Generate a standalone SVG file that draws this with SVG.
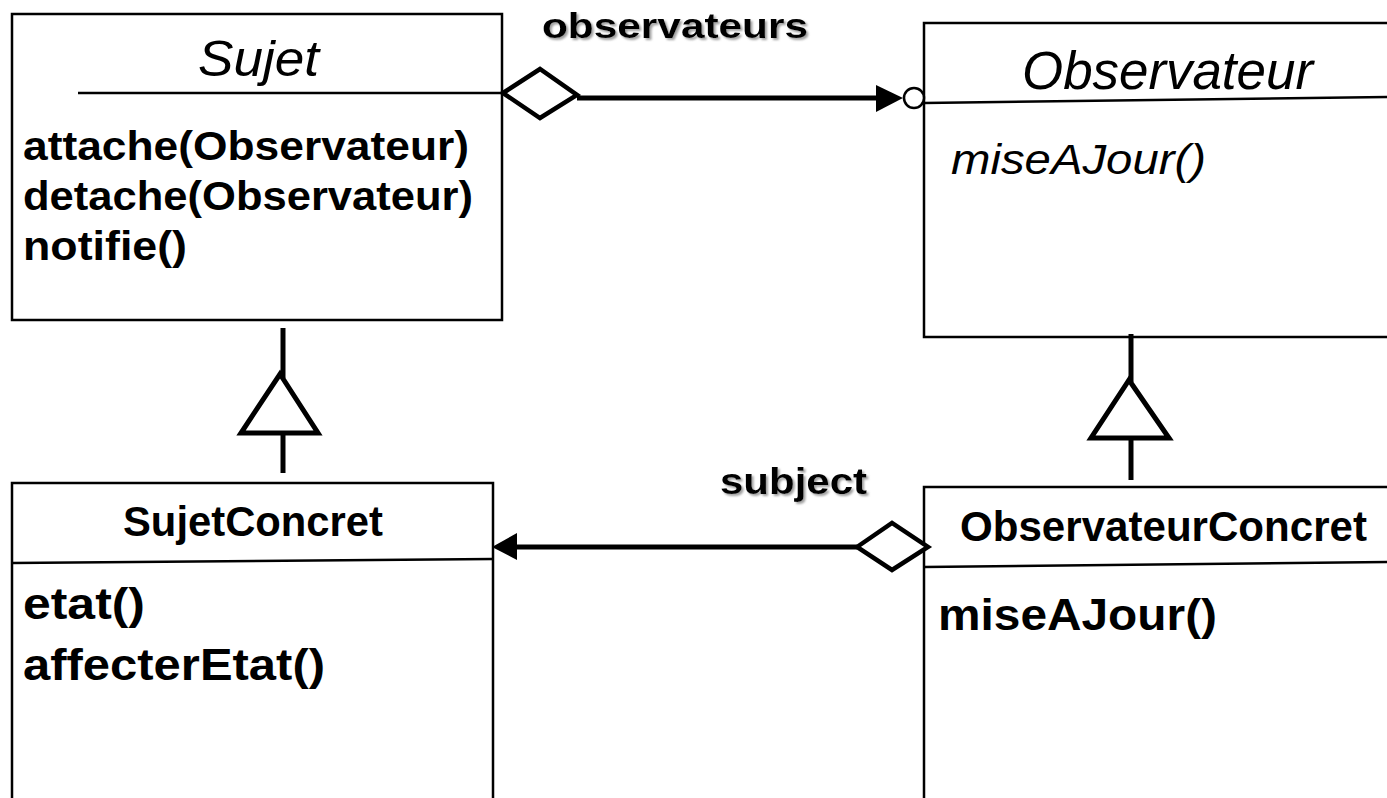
<svg xmlns="http://www.w3.org/2000/svg" width="1387" height="798" viewBox="0 0 1387 798">
<defs>
<style>
.box{fill:#fff;stroke:#000;stroke-width:2.5}
.sep{stroke:#000;stroke-width:2.5;fill:none}
.t{font-family:"Liberation Sans",Arial,sans-serif;fill:#000}
.it{font-style:italic}
.b{font-weight:bold}
.lnk{stroke:#000;stroke-width:5;fill:none}
.dia{fill:#fff;stroke:#000;stroke-width:4.5;stroke-linejoin:miter}
.tri{fill:#fff;stroke:#000;stroke-width:5;stroke-linejoin:miter}
.lbl{font-family:"Liberation Sans",Arial,sans-serif;font-weight:bold;fill:#000;filter:url(#sh)}
</style>
<filter id="sh" x="-10%" y="-20%" width="130%" height="160%">
<feDropShadow dx="2" dy="2" stdDeviation="0.8" flood-color="#888" flood-opacity="0.8"/>
</filter>
</defs>
<rect width="1387" height="798" fill="#fff"/>

<g id="Sujet">
<rect class="box" x="12" y="14" width="490" height="306"/>
<line class="sep" x1="78" y1="93" x2="502" y2="93"/>
<text class="t it" x="198" y="76" font-size="50" textLength="121" lengthAdjust="spacingAndGlyphs">Sujet</text>
<text class="t b" x="23" y="160" font-size="41" textLength="446" lengthAdjust="spacingAndGlyphs">attache(Observateur)</text>
<text class="t b" x="23" y="210" font-size="41" textLength="450" lengthAdjust="spacingAndGlyphs">detache(Observateur)</text>
<text class="t b" x="23" y="260" font-size="41" textLength="164" lengthAdjust="spacingAndGlyphs">notifie()</text>
</g>

<g id="Observateur">
<rect class="box" x="924" y="23" width="480" height="314"/>
<line class="sep" x1="924" y1="103" x2="1387" y2="97"/>
<text class="t it" x="1022" y="89" font-size="53" textLength="291" lengthAdjust="spacingAndGlyphs">Observateur</text>
<text class="t it" x="951" y="174" font-size="43" textLength="255" lengthAdjust="spacingAndGlyphs">miseAJour()</text>
</g>

<g id="SujetConcret">
<rect class="box" x="12" y="483" width="481" height="330"/>
<line class="sep" x1="12" y1="563" x2="493" y2="559"/>
<text class="t b" x="123" y="536" font-size="43" textLength="260" lengthAdjust="spacingAndGlyphs">SujetConcret</text>
<text class="t b" x="23" y="619" font-size="44" textLength="122" lengthAdjust="spacingAndGlyphs">etat()</text>
<text class="t b" x="23" y="680" font-size="44" textLength="302" lengthAdjust="spacingAndGlyphs">affecterEtat()</text>
</g>

<g id="ObservateurConcret">
<rect class="box" x="924" y="487" width="480" height="330"/>
<line class="sep" x1="924" y1="567" x2="1387" y2="562"/>
<text class="t b" x="960" y="541" font-size="43" textLength="407" lengthAdjust="spacingAndGlyphs">ObservateurConcret</text>
<text class="t b" x="938" y="630" font-size="44" textLength="279" lengthAdjust="spacingAndGlyphs">miseAJour()</text>
</g>

<g id="connectors">
<line class="lnk" x1="577" y1="98" x2="880" y2="98"/>
<path class="dia" d="M503,93 L540,69 L577,95 L540,118 Z"/>
<path d="M876,85 L903,98 L876,112 Z" fill="#000"/>
<circle cx="914" cy="98" r="10" fill="#fff" stroke="#000" stroke-width="2.5"/>
<text class="lbl" x="542" y="38" font-size="35" textLength="266" lengthAdjust="spacingAndGlyphs">observateurs</text>

<line class="lnk" x1="857" y1="547" x2="512" y2="547"/>
<path class="dia" d="M857,547 L892,523 L928,547 L892,570 Z"/>
<path d="M517,533 L492,547 L517,560 Z" fill="#000"/>
<text class="lbl" x="720" y="494" font-size="37" textLength="147" lengthAdjust="spacingAndGlyphs">subject</text>

<line class="lnk" x1="283" y1="328" x2="283" y2="378"/>
<line class="lnk" x1="283" y1="433" x2="283" y2="473"/>
<path class="tri" d="M280,374 L318,433 L241,433 Z"/>

<line class="lnk" x1="1131" y1="334" x2="1131" y2="382"/>
<line class="lnk" x1="1131" y1="438" x2="1131" y2="480"/>
<path class="tri" d="M1129,380 L1169,438 L1091,438 Z"/>
</g>
</svg>
